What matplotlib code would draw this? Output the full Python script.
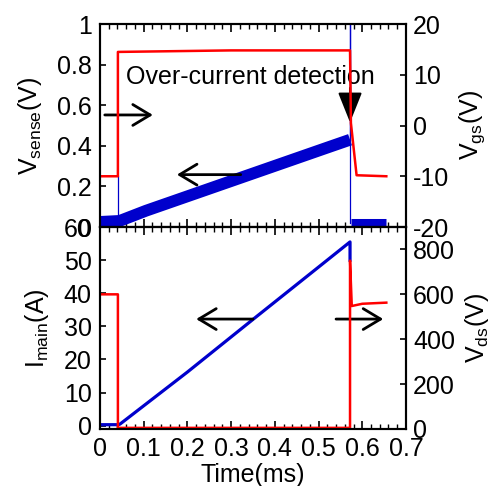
import matplotlib
matplotlib.use("Agg")
import matplotlib.pyplot as plt
from matplotlib.ticker import MultipleLocator, FuncFormatter

plt.rcParams['font.family'] = ['Liberation Sans', 'DejaVu Sans']
plt.rcParams['mathtext.fontset'] = 'custom'
plt.rcParams['mathtext.rm'] = 'Liberation Sans'
plt.rcParams['mathtext.it'] = 'Liberation Sans'

# Top panel: V_sense (left axis), V_gs (right axis)
t_sense = [0.000, 0.045, 0.105, 0.165, 0.225, 0.285, 0.345, 0.405, 0.465, 0.525, 0.572]
v_sense = [0.025, 0.030, 0.080, 0.125, 0.170, 0.215, 0.260, 0.305, 0.350, 0.395, 0.430]
t_sense_off = [0.575, 0.655]
v_sense_off = [0.02, 0.02]
t_sense_edge = [0.041, 0.041, None, 0.572, 0.572, 0.572]
v_sense_edge = [0.03, 0.25, None, 0.02, 1.0, 0.43]

t_vgs = [0.0, 0.041, 0.041, 0.30, 0.572, 0.574, 0.587, 0.655]
v_vgs = [-10.0, -10.0, 14.5, 14.8, 14.8, 0.5, -9.8, -10.0]

# Bottom panel: I_main (left axis), V_ds (right axis)
t_imain = [0.0, 0.042, 0.046, 0.20, 0.35, 0.50, 0.572, 0.572]
i_imain = [0.3, 0.3, 0.5, 16.2, 32.1, 47.9, 55.5, 50.0]

t_vds = [0.0, 0.041, 0.041, 0.30, 0.572, 0.572, 0.576, 0.60, 0.655]
v_vds = [600, 600, 5, 5, 5, 750, 548, 558, 563]

xticks = [0, 0.1, 0.2, 0.3, 0.4, 0.5, 0.6, 0.7]

RED = '#ff0000'
BLUE = '#0000cc'
FS = 18

fig = plt.figure(figsize=(4.93, 4.86), dpi=100)
ax1 = fig.add_axes([0.2028, 0.5329, 0.6207, 0.4177])
ax2 = fig.add_axes([0.2028, 0.1173, 0.6207, 0.4156])
ax1r = ax1.twinx()
ax2r = ax2.twinx()

fmt = FuncFormatter(lambda v, p: f'{v:g}')

# top panel
ax1.plot(t_sense, v_sense, color=BLUE, lw=8.5, solid_capstyle='butt')
ax1.plot(t_sense_off, v_sense_off, color=BLUE, lw=6.5, solid_capstyle='butt')
ax1.plot(t_sense_edge, v_sense_edge, color=BLUE, lw=0.9)
ax1r.plot(t_vgs, v_vgs, color=RED, lw=1.8)

# bottom panel
ax2.plot(t_imain, i_imain, color=BLUE, lw=2.3)
ax2r.plot(t_vds, v_vds, color=RED, lw=1.8)

for ax in (ax1, ax2):
    ax.set_xlim(0, 0.7)
    ax.xaxis.set_major_locator(MultipleLocator(0.1))
    ax.xaxis.set_minor_locator(MultipleLocator(0.02))
    ax.tick_params(axis='x', which='major', direction='in', length=6, width=1.2, top=True, bottom=True)
    ax.tick_params(axis='x', which='minor', direction='in', length=3.5, width=1.0, top=True, bottom=True)
    ax.tick_params(axis='y', which='major', direction='in', length=4, width=1.2, labelsize=FS, pad=6)
    ax.yaxis.set_major_formatter(fmt)

for ax in (ax1r, ax2r):
    ax.tick_params(axis='y', which='major', direction='in', length=4, width=1.2, labelsize=FS, pad=5)
    ax.yaxis.set_major_formatter(fmt)

for ax in (ax1, ax2, ax1r, ax2r):
    for s in ax.spines.values():
        s.set_linewidth(1.5)

ax1.set_ylim(0, 1)
ax1.yaxis.set_major_locator(MultipleLocator(0.2))
ax1r.set_ylim(-20, 20)
ax1r.yaxis.set_major_locator(MultipleLocator(10))
ax1.tick_params(axis='x', labelbottom=False)

ax2.set_ylim(-1, 60)
ax2.set_yticks([0, 10, 20, 30, 40, 50, 60])
ax2r.set_ylim(0, 900)
ax2r.set_yticks([0, 200, 400, 600, 800])
ax2.set_xticks(xticks)
ax2.xaxis.set_major_formatter(fmt)
ax2.tick_params(axis='x', labelsize=FS, pad=6)

ax1.set_ylabel(r'V$_{\mathregular{sense}}$(V)', fontsize=FS, labelpad=9)
ax1r.set_ylabel(r'V$_{\mathregular{gs}}$(V)', fontsize=FS, labelpad=6, rotation=90)
ax2.set_ylabel(r'I$_{\mathregular{main}}$(A)', fontsize=FS, labelpad=9)
ax2r.set_ylabel(r'V$_{\mathregular{ds}}$(V)', fontsize=FS, labelpad=6, rotation=90)
ax2.set_xlabel('Time(ms)', fontsize=FS, labelpad=1)

# annotations
ax1.text(0.345, 0.739, 'Over-current detection', fontsize=FS, ha='center', va='center')
open_arrow = dict(arrowstyle='->,head_length=0.5,head_width=0.3', lw=2, color='black',
                  mutation_scale=25, shrinkA=0, shrinkB=0)
ax1.annotate('', xy=(0.121, 0.552), xytext=(0.011, 0.552), arrowprops=open_arrow)
ax1.annotate('', xy=(0.176, 0.258), xytext=(0.322, 0.258), arrowprops=open_arrow)
ax1.annotate('', xy=(0.572, 0.515), xytext=(0.572, 0.685),
             arrowprops=dict(arrowstyle='-|>,head_length=0.75,head_width=0.3', lw=1.5,
                             color='black', mutation_scale=25, shrinkA=0, shrinkB=0))
ax2.annotate('', xy=(0.220, 32.2), xytext=(0.350, 32.2), arrowprops=open_arrow)
ax2.annotate('', xy=(0.648, 32.2), xytext=(0.540, 32.2), arrowprops=open_arrow)

fig.savefig('out.png', dpi=100)
